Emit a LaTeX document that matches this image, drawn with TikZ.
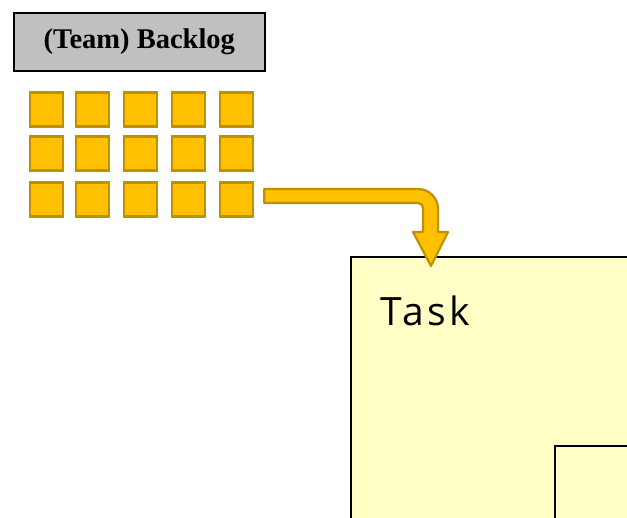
\documentclass[tikz,border=0pt]{standalone}
\usepackage{fontspec}
\setmainfont{Liberation Serif}
\newfontfamily\handfont[LetterSpace=9]{Open Sans}
\definecolor{hdrgray}{HTML}{C0C0C0}
\definecolor{itemfill}{HTML}{FFC000}
\definecolor{itemedge}{HTML}{BF9000}
\definecolor{notefill}{HTML}{FFFFC6}
\tikzset{
  header/.style={draw=black, line width=1.6pt, fill=hdrgray, minimum width=251pt,
    minimum height=58pt, inner sep=0pt, font=\fontsize{28.5}{32}\selectfont\bfseries},
  item/.style={draw=itemedge, line width=2.4pt, fill=itemfill, minimum width=33pt,
    minimum height=34pt, inner sep=0pt},
  note/.style={draw=black, line width=1.6pt, fill=notefill},
  blockarrow/.style={draw=itemedge, line width=2.2pt, fill=itemfill, line join=round}
}
\begin{document}
\begin{tikzpicture}[x=1pt, y=-1pt]
  \useasboundingbox (0,0) rectangle (627,518);
  \clip (0,0) rectangle (627,518);
  \fill[white] (0,0) rectangle (627,518);

  % backlog header
  \node[header, anchor=north west] (hdr) at (13,12) {(Team) Backlog};

  % backlog items, 3 rows of 5
  \foreach \r/\y in {1/109.5, 2/153.5, 3/199.5}{
    \foreach \c/\x in {1/46.5, 2/92.5, 3/140.5, 4/188.5, 5/236.5}{
      \node[item] (it\r\c) at (\x,\y) {};
    }
  }

  % task note and its inner box
  \draw[note] (351,257) rectangle (640,530);
  \node[anchor=base west, inner sep=0pt, font=\handfont\fontsize{39}{42}\selectfont] (task) at (380,326) {Task};
  \draw[note] (555,446) rectangle (640,530);
  \coordinate (tasktop) at (431,257);

  % block arrow from the last item down to the task note
  \coordinate (a0) at ([xshift=10pt]it35.east);
  \draw[blockarrow]
    (a0 |- 0,189) -- (418,189) arc[start angle=90, end angle=0, radius=20pt]
    -- (438,232) -- (448,232) -- ([yshift=-9pt]tasktop) -- (413,232) -- (423,232)
    -- (423,208) arc[start angle=0, end angle=90, radius=5pt]
    -- (a0 |- 0,203) -- cycle;
\end{tikzpicture}
\end{document}
